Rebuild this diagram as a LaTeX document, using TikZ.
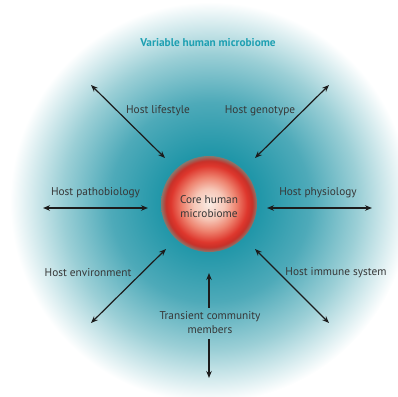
\documentclass[tikz,border=0pt]{standalone}
\usepackage{fontspec}
\setmainfont{PT Sans}
\usetikzlibrary{arrows.meta}
\definecolor{teal0}{RGB}{32,150,168}
\definecolor{teal1}{RGB}{78,170,185}
\definecolor{teal2}{RGB}{155,207,214}
\definecolor{titc}{RGB}{30,160,178}
\definecolor{txtc}{RGB}{55,55,55}
\definecolor{arrc}{RGB}{28,28,28}
\definecolor{ball0}{RGB}{250,236,228}
\definecolor{ball1}{RGB}{246,198,182}
\definecolor{ball2}{RGB}{238,132,112}
\definecolor{ball3}{RGB}{222,55,45}
\definecolor{ball4}{RGB}{200,48,40}
\definecolor{ball5}{RGB}{135,120,110}
\pgfdeclareradialshading{glow}{\pgfpointorigin}{color(0bp)=(teal0); color(6bp)=(teal0); color(12.5bp)=(teal1); color(18.5bp)=(teal2); color(25bp)=(white); color(50bp)=(white)}
\pgfdeclareradialshading{ball}{\pgfpointorigin}{color(0bp)=(ball0); color(8bp)=(ball1); color(14bp)=(ball2); color(20bp)=(ball3); color(22.5bp)=(ball4); color(25bp)=(ball5); color(50bp)=(ball5)}
\begin{document}
\begin{tikzpicture}[x=1pt,y=-1pt]
\useasboundingbox (0,0) rectangle (398,396);
\clip (0,0) rectangle (398,396);
\tikzset{lbl/.style={text=txtc, font=\fontsize{11.3}{14}\selectfont, align=center, inner sep=0pt},
link/.style={draw=arrc, line width=1.2pt, {Stealth[length=7pt,width=5.5pt]}-{Stealth[length=7pt,width=5.5pt]}},
one/.style={draw=arrc, line width=1.2pt, -{Stealth[length=7pt,width=5.5pt]}}}
% outer zone and core
\shade[shading=glow] (210,202) circle (200);
\node[circle, minimum size=96pt, inner sep=0pt, shading=ball] (core) at (209,204){};
\node[lbl] (lab0) at (209,206.5){Core human\\microbiome};
\node[text=titc, font=\fontsize{11.3}{13}\selectfont\bfseries, inner sep=0pt] (title) at (208,43){Variable human microbiome};
% arrow end points
\coordinate (a1) at (91,85);
\coordinate (b1) at (165,158);
\coordinate (a2) at (329,85);
\coordinate (b2) at (255,158);
\coordinate (a3) at (43,208);
\coordinate (b3) at (148,208);
\coordinate (a4) at (372,208);
\coordinate (b4) at (267,208);
\coordinate (a5) at (91,323);
\coordinate (b5) at (166,249);
\coordinate (a6) at (329,323);
\coordinate (b6) at (255,249);
% labels
\node[lbl] (lab1) at (158,111){Host lifestyle};
\node[lbl] (lab2) at (260,111){Host genotype};
\node[lbl] (lab3) at (95.5,193){Host pathobiology};
\node[lbl] (lab4) at (318,193){Host physiology};
\node[lbl] (lab5) at (88,273){Host environment};
\node[lbl] (lab6) at (336,273){Host immune system};
\node[lbl] (lab7) at (210,323){Transient community\\members};
\coordinate (b7) at (209,273);
\coordinate (a7) at (209,378);
% arrows
\draw[link](a1) -- (b1);
\draw[link](a2) -- (b2);
\draw[link](a3) -- (b3);
\draw[link](a4) -- (b4);
\draw[link](a5) -- (b5);
\draw[link](a6) -- (b6);
\draw[one](lab7.north -| b7) ++(0,-4) -- (b7);
\draw[one](lab7.south -| a7) ++(0,5) -- (a7);
\end{tikzpicture}
\end{document}
